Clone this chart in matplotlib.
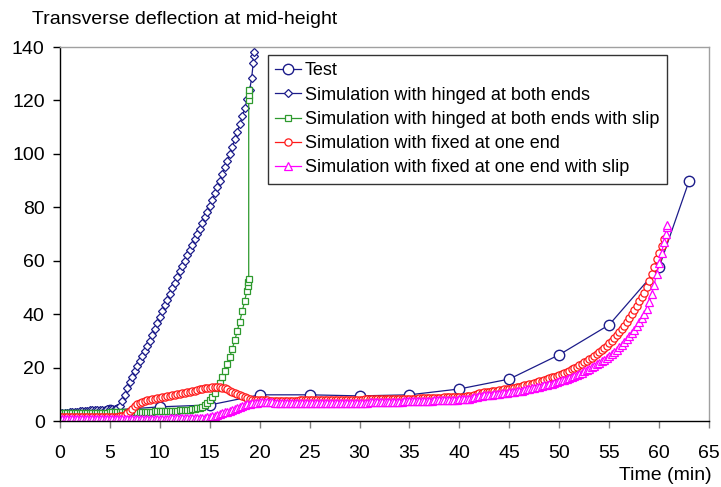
import matplotlib.pyplot as plt
import numpy as np

plt.rcParams["font.family"] = ["Liberation Sans", "DejaVu Sans"]

# ---- data ----
test_t = [0, 5, 10, 15, 20, 25, 30, 35, 40, 45, 50, 55, 60, 63]
test_y = [0, 4.0, 5.3, 6.0, 9.8, 9.8, 9.4, 9.8, 12.0, 15.7, 24.8, 36.0, 57.5, 89.8]

# hinged at both ends: 0.25 min samples up to 19 min, then the last few outputs
hinged_t = list(np.arange(0, 19.01, 0.25)) + [19.2, 19.35, 19.4, 19.45]
hinged_y = [3.0, 3.05, 3.1, 3.15, 3.2, 3.3, 3.4, 3.5, 3.6, 3.7, 3.8, 3.9,
            4.0, 4.05, 4.1, 4.15, 4.2, 4.25, 4.3, 4.35, 4.4, 4.5, 4.6, 4.9,
            5.5, 7.5, 9.8, 12.2, 14.5, 16.6, 18.6, 20.5, 22.4, 24.3, 26.2, 28.1,
            30.0, 32.3, 34.5, 36.8, 39.0, 41.1, 43.3, 45.4, 47.5, 49.6, 51.8, 53.9,
            56.0, 58.0, 60.0, 62.0, 64.0, 66.0, 68.0, 70.0, 72.0, 74.1, 76.2, 78.4,
            80.5, 82.9, 85.2, 87.6, 90.0, 92.5, 95.0, 97.5, 100.0, 102.7, 105.5, 108.2,
            111.0, 114.0, 117.0, 120.5, 124.0,
            128.5, 134.0, 136.5, 138.0]

# hinged at both ends with slip
slip_t = list(np.arange(0, 18.51, 0.25)) + [18.7, 18.8, 18.85, 18.9, 18.9, 18.92, 18.95]
slip_y = [3.0, 3.0, 3.0, 3.0, 3.0, 3.0, 3.0, 3.0, 3.0, 3.0,
          3.0, 3.0, 3.0, 3.0, 3.1, 3.1, 3.1, 3.1, 3.1, 3.1,
          3.2, 3.2, 3.2, 3.2, 3.2, 3.2, 3.3, 3.3, 3.3, 3.3,
          3.4, 3.4, 3.4, 3.4, 3.5, 3.5, 3.5, 3.5, 3.6, 3.6,
          3.6, 3.6, 3.7, 3.7, 3.8, 3.8, 3.9, 3.9, 4.0, 4.0,
          4.1, 4.2, 4.3, 4.4, 4.5, 4.7,
          4.9, 5.4, 6.0, 6.8, 7.8, 9.0, 10.5, 12.2, 14.2, 16.4, 18.8, 21.3, 24.0,
          27.0, 30.2, 33.6, 37.2, 41.0, 45.0,
          48.5, 50.5, 52.0, 53.0, 120.0, 122.0, 124.0]

# fixed at one end
fixed_t = np.arange(0, 60.51, 0.25)
fixed_y = [1.5, 1.5, 1.5, 1.5, 1.5, 1.5, 1.5, 1.5, 1.5, 1.5,
           1.5, 1.5, 1.5, 1.5, 1.5, 1.5, 1.5, 1.5, 1.5, 1.5,
           1.6, 1.6, 1.6, 1.6, 1.7, 1.9, 2.2, 2.9, 3.8, 4.6,
           5.5, 6.2, 6.8, 7.2, 7.5, 7.8, 8.0, 8.2, 8.4, 8.6,
           8.7, 8.9, 9.0, 9.2, 9.4, 9.6, 9.8, 10.0, 10.2, 10.4,
           10.6, 10.8, 11.0, 11.2, 11.4, 11.6, 11.8, 12.0, 12.2, 12.4,
           12.5, 12.6, 12.7, 12.7, 12.6, 12.4, 12.2, 11.8, 11.4, 11.0,
           10.5, 10.0, 9.6, 9.2, 8.8, 8.5, 8.2, 8.0, 7.8, 7.8,
           7.8, 7.8, 7.7, 7.7, 7.6, 7.6, 7.6, 7.6, 7.6, 7.6,
           7.6, 7.6, 7.6, 7.6, 7.6, 7.6, 7.7, 7.7, 7.7, 7.7,
           7.7, 7.7, 7.7, 7.7, 7.8, 7.8, 7.8, 7.8, 7.8, 7.8,
           7.9, 7.9, 7.9, 7.9, 7.9, 7.9, 8.0, 8.0, 8.0, 8.0,
           8.0, 8.0, 8.1, 8.1, 8.1, 8.1, 8.1, 8.1, 8.2, 8.2,
           8.2, 8.2, 8.2, 8.2, 8.3, 8.3, 8.3, 8.3, 8.3, 8.3,
           8.4, 8.4, 8.4, 8.4, 8.5, 8.5, 8.5, 8.5, 8.6, 8.6,
           8.6, 8.6, 8.7, 8.7, 8.8, 8.8, 8.8, 8.8, 8.9, 8.9,
           9.0, 9.0, 9.1, 9.2, 9.3, 9.5, 9.8, 10.1, 10.4, 10.6,
           10.8, 10.9, 11.0, 11.1, 11.2, 11.3, 11.5, 11.6, 11.8, 11.9,
           12.1, 12.3, 12.5, 12.7, 12.9, 13.1, 13.3, 13.5, 13.8, 14.0,
           14.3, 14.5, 14.8, 15.1, 15.4, 15.7, 16.0, 16.3, 16.6, 16.9,
           17.3, 17.7, 18.1, 18.5, 18.9, 19.3, 19.8, 20.3, 20.8, 21.3,
           21.9, 22.5, 23.1, 23.7, 24.4, 25.1, 25.8, 26.6, 27.4, 28.2,
           29.1, 30.0, 31.0, 32.1, 33.2, 34.4, 35.6, 37.0, 38.4, 39.9,
           41.5, 43.2, 45.0, 46.5, 48.0, 50.0, 52.5, 55.0, 57.5, 60.5,
           63.0, 65.5, 68.0]

# fixed at one end with slip
fixed_slip_t = list(np.arange(0, 60.51, 0.25)) + [60.65, 60.75, 60.8]
fixed_slip_y = [0.8, 0.8, 0.8, 0.8, 0.8, 0.8, 0.8, 0.8, 0.8, 0.8,
                0.8, 0.8, 0.8, 0.8, 0.8, 0.8, 0.8, 0.8, 0.8, 0.8,
                0.8, 0.8, 0.8, 0.8, 0.8, 0.8, 0.8, 0.8, 0.8, 0.8,
                0.8, 0.8, 0.9, 0.9, 0.9, 0.9, 0.9, 0.9, 0.9, 0.9,
                0.9, 0.9, 0.9, 0.9, 1.0, 1.0, 1.0, 1.0, 1.0, 1.0,
                1.0, 1.0, 1.0, 1.0, 1.1, 1.1, 1.1, 1.2, 1.3, 1.4,
                1.6, 1.8, 2.0, 2.3, 2.6, 2.9, 3.2, 3.5, 3.9, 4.2,
                4.6, 5.0, 5.3, 5.6, 5.9, 6.2, 6.4, 6.6, 6.8, 6.9,
                7.0, 7.0, 7.0, 7.0, 7.0, 7.0, 6.9, 6.9, 6.8, 6.8,
                6.7, 6.7, 6.7, 6.7, 6.6, 6.6, 6.6, 6.6, 6.6, 6.6,
                6.6, 6.6, 6.6, 6.6, 6.6, 6.6, 6.6, 6.6, 6.7, 6.7,
                6.7, 6.7, 6.7, 6.7, 6.8, 6.8, 6.8, 6.8, 6.8, 6.8,
                6.9, 6.9, 6.9, 6.9, 7.0, 7.0, 7.0, 7.0, 7.0, 7.0,
                7.1, 7.1, 7.1, 7.1, 7.2, 7.2, 7.2, 7.2, 7.3, 7.3,
                7.3, 7.3, 7.4, 7.4, 7.4, 7.4, 7.5, 7.5, 7.6, 7.6,
                7.7, 7.7, 7.7, 7.7, 7.8, 7.8, 7.9, 7.9, 8.0, 8.0,
                8.1, 8.1, 8.2, 8.3, 8.4, 8.6, 8.8, 9.0, 9.3, 9.5,
                9.6, 9.7, 9.8, 9.9, 10.0, 10.1, 10.2, 10.3, 10.4, 10.5,
                10.7, 10.8, 11.0, 11.1, 11.3, 11.4, 11.6, 11.8, 12.0, 12.2,
                12.4, 12.6, 12.8, 13.0, 13.3, 13.5, 13.8, 14.0, 14.3, 14.6,
                14.9, 15.2, 15.5, 15.8, 16.2, 16.5, 16.9, 17.3, 17.7, 18.1,
                18.6, 19.1, 19.6, 20.1, 20.6, 21.2, 21.8, 22.4, 23.0, 23.7,
                24.4, 25.1, 25.9, 26.7, 27.6, 28.5, 29.5, 30.6, 31.7, 32.9,
                34.2, 35.6, 37.0, 38.6, 40.2, 42.0, 44.5, 47.5, 51.0, 55.0,
                59.0, 63.0, 67.0, 70.0, 72.5, 73.5]

NAVY = "#1c1c8a"
GREEN = "#2e9a2e"
RED = "#ff1a1a"
MAGENTA = "#ff00ff"

fig = plt.figure(figsize=(7.21, 4.87), dpi=100)
ax = fig.add_axes([60 / 721, 1 - 421 / 487, 649 / 721, 374 / 487])

ax.plot(test_t, test_y, color=NAVY, lw=0.9, marker="o", ms=7.5, mfc="white",
        mec=NAVY, mew=1.0, label="Test")
ax.plot(hinged_t, hinged_y, color=NAVY, lw=0.9, marker="D", ms=4.0, mfc="white",
        mec=NAVY, mew=0.9, label="Simulation with hinged at both ends")
ax.plot(slip_t, slip_y, color=GREEN, lw=0.9, marker="s", ms=4.8, mfc="white",
        mec=GREEN, mew=0.9, label="Simulation with hinged at both ends with slip")
ax.plot(fixed_t, fixed_y, color=RED, lw=0.9, marker="o", ms=5.2, mfc="white",
        mec=RED, mew=0.9, label="Simulation with fixed at one end")
ax.plot(fixed_slip_t, fixed_slip_y, color=MAGENTA, lw=0.9, marker="^", ms=5.5,
        mfc="white", mec=MAGENTA, mew=0.9,
        label="Simulation with fixed at one end with slip")

ax.set_xlim(0, 65)
ax.set_ylim(0, 140)
ax.set_xticks(range(0, 66, 5))
ax.set_yticks(range(0, 141, 20))
ax.tick_params(axis="both", labelsize=14, direction="out", length=5, width=1)
ax.tick_params(axis="x", color="#808080", pad=12)
ax.tick_params(axis="y", color="black", pad=6)

for s in ("top", "right"):
    ax.spines[s].set_color("#a0a0a0")
    ax.spines[s].set_linewidth(1.0)
for s in ("left", "bottom"):
    ax.spines[s].set_color("black")
    ax.spines[s].set_linewidth(1.0)

leg = ax.legend(loc="upper left", bbox_to_anchor=(0.32, 0.979), borderaxespad=0,
                fontsize=13, frameon=True, fancybox=False, framealpha=1,
                edgecolor="#333333", handlelength=1.4, handletextpad=0.25,
                labelspacing=0.4, borderpad=0.42)
leg.get_frame().set_linewidth(1.0)

fig.text(32 / 721, 1 - 19 / 487, "Transverse deflection at mid-height",
         fontsize=14, ha="left", va="center")
fig.text(712 / 721, 1 - 476 / 487, "Time (min)", fontsize=14,
         ha="right", va="center")

fig.savefig("out.png", dpi=100)
